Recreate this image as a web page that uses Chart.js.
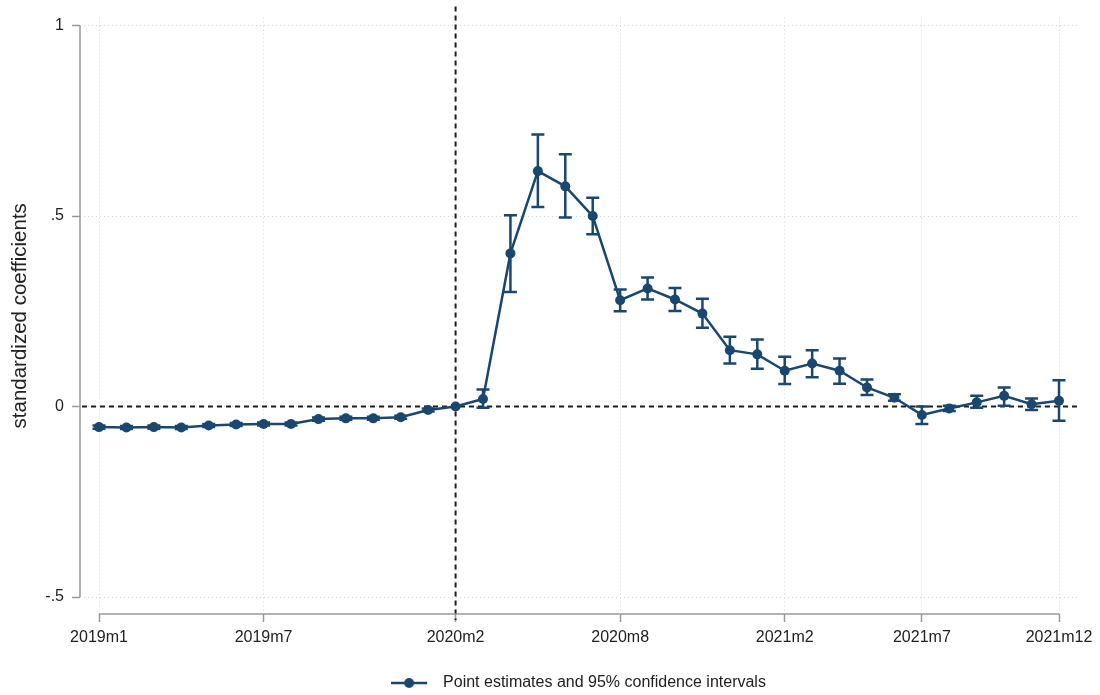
<!DOCTYPE html>
<html>
<head>
<meta charset="utf-8">
<script src="https://cdn.jsdelivr.net/npm/chart.js@4"></script>
<style>
  html, body { margin: 0; padding: 0; background: #fff; }
  canvas { display: block; }
</style>
</head>
<body>
<canvas id="chart" width="1100" height="695"></canvas>
<script>
// --- data ---
const months = [
  '2019m1','2019m2','2019m3','2019m4','2019m5','2019m6','2019m7','2019m8','2019m9','2019m10','2019m11','2019m12',
  '2020m1','2020m2','2020m3','2020m4','2020m5','2020m6','2020m7','2020m8','2020m9','2020m10','2020m11','2020m12',
  '2021m1','2021m2','2021m3','2021m4','2021m5','2021m6','2021m7','2021m8','2021m9','2021m10','2021m11','2021m12'
];
const tickMonths = [0, 6, 13, 19, 25, 30, 35];   // indexes into months that get a label
const yTicks = [-0.5, 0, 0.5, 1];
const eventMonth = 13;                           // 2020m2, dashed vertical line

const coef = [
  -0.054, -0.055, -0.054, -0.055, -0.050, -0.047, -0.046, -0.046, -0.033, -0.031, -0.031, -0.028,
  -0.009,  0.000,  0.020,  0.402,  0.618,  0.578,  0.500,  0.279,  0.310,  0.281,  0.244,  0.148,
   0.137,  0.094,  0.113,  0.094,  0.050,  0.023, -0.022, -0.005,  0.011,  0.028,  0.006,  0.015
];
const ciHigh = [
  -0.050, -0.051, -0.050, -0.051, -0.046, -0.043, -0.042, -0.042, -0.029, -0.027, -0.027, -0.024,
  -0.005,  0.000,  0.045,  0.502,  0.714,  0.662,  0.548,  0.307,  0.339,  0.311,  0.283,  0.183,
   0.176,  0.131,  0.148,  0.126,  0.071,  0.032,  0.000,  0.002,  0.028,  0.050,  0.021,  0.069
];
const ciLow = [
  -0.058, -0.059, -0.058, -0.059, -0.054, -0.051, -0.050, -0.050, -0.037, -0.035, -0.035, -0.032,
  -0.013,  0.000, -0.003,  0.301,  0.524,  0.496,  0.452,  0.250,  0.281,  0.251,  0.207,  0.113,
   0.099,  0.059,  0.077,  0.060,  0.030,  0.015, -0.046, -0.012, -0.003,  0.002, -0.009, -0.037
];

const NAVY = '#1a476f';
const FONT = "'Liberation Sans', Arial, sans-serif";

// --- dashed reference lines (y=0 and event month) ---
const refLines = {
  id: 'refLines',
  beforeDatasetsDraw(chart) {
    const {ctx, chartArea: a, scales: {x, y}} = chart;
    ctx.save();
    ctx.strokeStyle = '#1e1e1e';
    ctx.lineWidth = 2;
    ctx.setLineDash([5, 4]);
    const y0 = y.getPixelForValue(0);
    ctx.beginPath(); ctx.moveTo(a.left + 2, y0); ctx.lineTo(a.right, y0); ctx.stroke();
    const xe = x.getPixelForValue(eventMonth);
    ctx.beginPath(); ctx.moveTo(xe, a.top - 11); ctx.lineTo(xe, a.bottom + 6); ctx.stroke();
    ctx.restore();
  }
};

// --- 95% CI whiskers ---
const errorBars = {
  id: 'errorBars',
  beforeDatasetsDraw(chart) {
    const {ctx, scales: {x, y}} = chart;
    ctx.save();
    ctx.strokeStyle = NAVY;
    ctx.lineWidth = 2.5;
    coef.forEach((v, i) => {
      if (ciHigh[i] === ciLow[i]) return;
      const px = x.getPixelForValue(i);
      const top = y.getPixelForValue(ciHigh[i]);
      const bot = y.getPixelForValue(ciLow[i]);
      ctx.beginPath();
      ctx.moveTo(px, top); ctx.lineTo(px, bot);
      ctx.moveTo(px - 6.5, top); ctx.lineTo(px + 6.5, top);
      ctx.moveTo(px - 6.5, bot); ctx.lineTo(px + 6.5, bot);
      ctx.stroke();
    });
    ctx.restore();
  }
};

// --- Stata-like axis lines, only between first and last tick ---
const axisLines = {
  id: 'axisLines',
  afterDraw(chart) {
    const {ctx, chartArea: a, scales: {x, y}} = chart;
    ctx.save();
    ctx.strokeStyle = '#999';
    ctx.lineWidth = 1.5;
    ctx.beginPath();
    ctx.moveTo(a.left, y.getPixelForValue(yTicks[yTicks.length - 1]));
    ctx.lineTo(a.left, y.getPixelForValue(yTicks[0]));
    ctx.moveTo(x.getPixelForValue(tickMonths[0]), a.bottom);
    ctx.lineTo(x.getPixelForValue(tickMonths[tickMonths.length - 1]), a.bottom);
    ctx.stroke();
    ctx.restore();
  }
};

// legend marker: line with a dot
const marker = document.createElement('canvas');
marker.width = 44; marker.height = 12;
(() => {
  const c = marker.getContext('2d');
  c.strokeStyle = NAVY; c.fillStyle = NAVY; c.lineWidth = 2.5;
  c.beginPath(); c.moveTo(0, 6); c.lineTo(36, 6); c.stroke();
  c.beginPath(); c.arc(18, 6, 5, 0, Math.PI * 2); c.fill();
})();

new Chart(document.getElementById('chart'), {
  type: 'line',
  data: {
    datasets: [{
      label: 'Point estimates and 95% confidence intervals',
      data: coef.map((v, i) => ({x: i, y: v})),
      borderColor: NAVY,
      backgroundColor: NAVY,
      borderWidth: 2.5,
      pointRadius: 5,
      pointHoverRadius: 5,
      pointBorderWidth: 0,
      tension: 0
    }]
  },
  options: {
    responsive: false,
    animation: false,
    layout: { padding: { top: 0, right: 23, left: 0, bottom: -6 } },
    scales: {
      x: {
        type: 'linear',
        min: -0.693,
        max: 35.656,
        afterBuildTicks: s => { s.ticks = tickMonths.map(v => ({value: v})); },
        afterFit: s => { s.height = 51; },
        ticks: {
          callback: v => months[v],
          autoSkip: false, maxRotation: 0,
          padding: 6,
          color: '#222',
          font: { family: FONT, size: 16 }
        },
        grid: { color: '#d6d6d6', lineWidth: 1, tickColor: '#999', tickLength: 8, tickWidth: 1.5 },
        border: { display: false, dash: [1, 3] }
      },
      y: {
        min: -0.5446,
        max: 1.021,
        afterBuildTicks: s => { s.ticks = yTicks.map(v => ({value: v})); },
        afterFit: s => { s.width = 80; },
        ticks: {
          callback: v => String(v).replace('0.', '.'),
          padding: 8,
          color: '#222',
          font: { family: FONT, size: 16 }
        },
        grid: { color: '#d6d6d6', lineWidth: 1, tickColor: '#999', tickLength: 8, tickWidth: 1.5 },
        border: { display: false, dash: [1, 3] },
        title: {
          display: true,
          text: 'standardized coefficients',
          color: '#222',
          font: { family: FONT, size: 20.5 },
          padding: { top: 8, bottom: 0 }
        }
      }
    },
    plugins: {
      legend: {
        position: 'bottom',
        fullSize: false,
        labels: {
          usePointStyle: true,
          pointStyle: marker,
          pointStyleWidth: 44,
          boxHeight: 12,
          padding: 10,
          color: '#222',
          font: { family: FONT, size: 16 }
        }
      },
      tooltip: { enabled: false }
    }
  },
  plugins: [refLines, errorBars, axisLines]
});
</script>
</body>
</html>
